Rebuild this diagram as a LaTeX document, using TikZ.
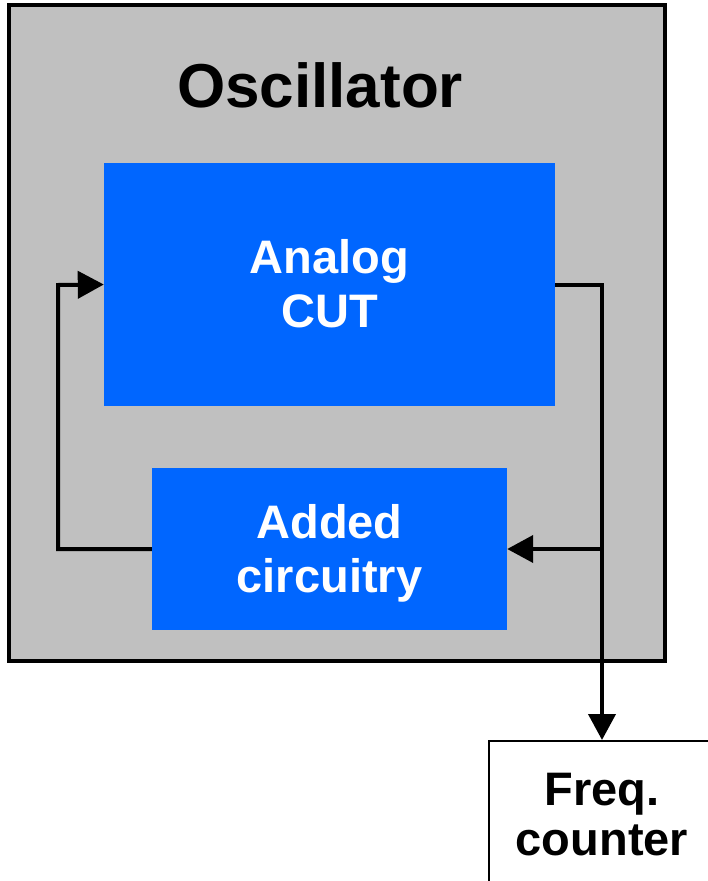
\documentclass[tikz,border=0pt]{standalone}
\usepackage{fontspec}
\setmainfont{Liberation Sans}
\usetikzlibrary{arrows.meta}
\definecolor{panelgray}{RGB}{192,192,192}
\definecolor{blockblue}{RGB}{0,102,255}
\tikzset{
  block/.style={draw=none, fill=blockblue, inner sep=0pt},
  caption/.style={inner sep=0pt, align=center, anchor=north,
    font=\fontsize{47}{54}\selectfont\bfseries},
  wire/.style={line width=4pt, line join=miter},
  tip/.style={wire, -{Triangle[length=26pt,width=27pt]}},
}
\begin{document}
\begin{tikzpicture}[x=1pt,y=-1pt]
\useasboundingbox (0,0) rectangle (707,881);
% oscillator enclosure
\node[draw=black, line width=4pt, fill=panelgray, inner sep=0pt,
      minimum width=656pt, minimum height=656pt] (osc) at (337,333) {};
\node[inner sep=0pt, font=\fontsize{62}{70}\selectfont\bfseries, anchor=base] (title) at (320,107) {Oscillator};
% blocks
\node[block, minimum width=451pt, minimum height=243pt] (cut) at (329.5,284.5) {};
\node[caption, text=white] (cuttext) at (329.5,239) {Analog\\CUT};
\node[block, minimum width=355pt, minimum height=162pt] (added) at (329.5,549) {};
\node[caption, text=white] (addedtext) at (329.5,504) {Added\\circuitry};
\node[draw=black, line width=2pt, fill=white, inner sep=0pt,
      minimum width=226pt, minimum height=150pt] (freq) at (602,816) {};
\node[caption, font=\fontsize{47}{50}\selectfont\bfseries] (freqtext) at (602,773) {Freq.\\counter};
% connections
\coordinate (j) at (602,549);
\coordinate (lc) at (58,285);
\draw[wire] (cut.east) -| (j);
\draw[tip] (j) -- (added.east);
\draw[tip] (j) -- (freq.north);
\draw[tip] (added.west) -| (lc) -- (cut.west);
\end{tikzpicture}
\end{document}
